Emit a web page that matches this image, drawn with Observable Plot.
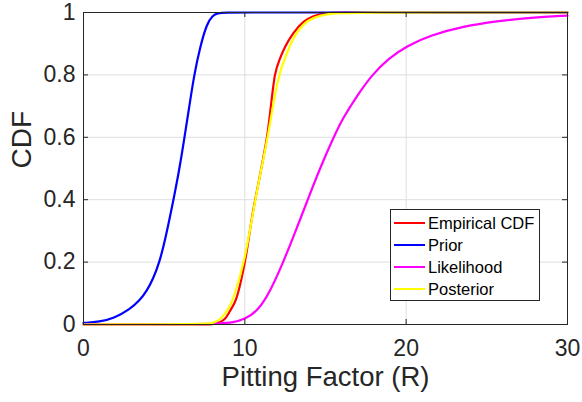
<!DOCTYPE html>
<html><head><meta charset="utf-8">
<script src="https://cdn.jsdelivr.net/npm/d3@7"></script>
<script src="https://cdn.jsdelivr.net/npm/@observablehq/plot@0.6"></script>
<style>
body{margin:0;background:#fff;}
#wrap{position:relative;width:582px;height:402px;font-family:"Liberation Sans",Arial,Helvetica,sans-serif;}
#legend{position:absolute;left:390px;top:209px;width:148px;height:90px;border:1px solid #262626;background:#fff;}
.row{position:absolute;left:3px;height:22px;display:flex;align-items:center;white-space:nowrap;}
.sw{width:31px;height:2px;margin-right:3px;}
.lab{font-size:16.5px;color:#000;line-height:22px;}
</style></head>
<body>
<div id="wrap"></div>
<script>
const xTicks = [0, 10, 20, 30];
const yTicks = [0, 0.2, 0.4, 0.6, 0.8, 1];
const xGrid = [10, 20];
const yGrid = [0.2, 0.4, 0.6, 0.8];
const xLabel = "Pitting Factor (R)";
const yLabel = "CDF";
const seriesNames = ["Empirical CDF", "Prior", "Likelihood", "Posterior"];
const seriesColors = ["#ff0000", "#0000ff", "#ff00ff", "#ffff00"];

const empX = [0, 7.5, 8.0, 8.47, 8.78, 9.1, 9.47, 10.0, 10.5, 11.02, 11.4, 11.87, 12.2, 12.5, 13.0, 13.64, 14.26, 15.3, 16.2, 30];
const empY = [0, 0, 0.001, 0.008, 0.019, 0.045, 0.083, 0.2, 0.36, 0.5, 0.61, 0.8, 0.855, 0.89, 0.933, 0.97, 0.988, 0.999, 1, 1];

const priorX = [0, 1, 1.86, 2.9, 3.5, 3.93, 4.3, 4.7, 5.1, 5.58, 5.95, 6.26, 6.56, 6.86, 7.23, 7.65, 8.0, 8.3, 8.8, 10, 15, 20, 25, 30];
const priorY = [0.005, 0.009, 0.019, 0.05, 0.078, 0.108, 0.145, 0.197, 0.28, 0.4, 0.5, 0.6, 0.7, 0.8, 0.89, 0.965, 0.99, 0.998, 1, 1, 1, 1, 1, 1];

const likeX = [0, 8, 9.3, 9.98, 10.75, 11.57, 12.38, 13.0, 13.9, 14.65, 15.5, 16.08, 16.95, 17.88, 18.9, 20.05, 21.5, 23.56, 25.63, 27.7, 30];
const likeY = [0, 0.001, 0.006, 0.017, 0.04, 0.105, 0.2, 0.28, 0.4, 0.5, 0.6, 0.662, 0.733, 0.8, 0.853, 0.893, 0.927, 0.956, 0.972, 0.984, 0.99];

const postX = [0, 7.5, 8.0, 8.47, 9.0, 9.3, 9.98, 10.54, 11.02, 11.43, 12.05, 12.6, 13.02, 13.64, 14.26, 15.3, 16.3, 30];
const postY = [0, 0.001, 0.004, 0.014, 0.05, 0.083, 0.2, 0.37, 0.5, 0.6, 0.8, 0.868, 0.922, 0.965, 0.985, 0.997, 1, 1];

const zip = (xs, ys) => xs.map((x, i) => ({x, y: ys[i]}));
const series = [zip(empX, empY), zip(priorX, priorY), zip(likeX, likeY), zip(postX, postY)];
const curves = ["monotone-x", "basis", "basis", "basis"];

const W = 582, H = 402, mL = 83, mR = 15, mT = 12, mB = 78;
const pw = W - mL - mR, ph = H - mT - mB;
const ink = "#262626";

const chart = Plot.plot({
  width: W, height: H,
  marginLeft: mL, marginRight: mR, marginTop: mT, marginBottom: mB,
  x: {domain: [0, 30]},
  y: {domain: [0, 1]},
  style: {fontFamily: '"Liberation Sans", Arial, Helvetica, sans-serif', color: ink, background: "white", overflow: "visible"},
  marks: [
    Plot.ruleX(xGrid, {x: d => d, stroke: "#dedede"}),
    Plot.ruleY(yGrid, {y: d => d, stroke: "#dedede"}),
    ...series.map((s, i) => Plot.line(s, {x: "x", y: "y", stroke: seriesColors[i], strokeWidth: 2.2, curve: curves[i]})),
    Plot.frame({stroke: ink}),
    Plot.tickX(xTicks, {x: d => d, insetTop: ph - 5, stroke: ink}),
    Plot.tickX(xTicks, {x: d => d, insetBottom: ph - 5, stroke: ink}),
    Plot.tickY(yTicks, {y: d => d, insetRight: pw - 5, stroke: ink}),
    Plot.tickY(yTicks, {y: d => d, insetLeft: pw - 5, stroke: ink}),
    Plot.axisX(xTicks, {tickSize: 0, tickPadding: 15.5, fontSize: 23, label: null, tickFormat: d => String(d), fill: ink}),
    Plot.axisY(yTicks, {tickSize: 0, tickPadding: 8, fontSize: 23, label: null, tickFormat: d => String(d), fill: ink}),
    Plot.text([xLabel], {frameAnchor: "bottom", dy: 61.5, text: d => d, fontSize: 27.5, fill: ink}),
    Plot.text([yLabel], {frameAnchor: "left", dx: -61, rotate: -90, text: d => d, fontSize: 28, fill: ink})
  ]
});
const wrap = document.getElementById("wrap");
wrap.appendChild(chart);

const legend = document.createElement("div");
legend.id = "legend";
seriesNames.forEach((name, i) => {
  const row = document.createElement("div");
  row.className = "row";
  row.style.top = (2 + 22 * i) + "px";
  const sw = document.createElement("div");
  sw.className = "sw";
  sw.style.background = seriesColors[i];
  const lab = document.createElement("span");
  lab.className = "lab";
  lab.textContent = name;
  row.appendChild(sw); row.appendChild(lab);
  legend.appendChild(row);
});
wrap.appendChild(legend);
</script>
</body></html>
